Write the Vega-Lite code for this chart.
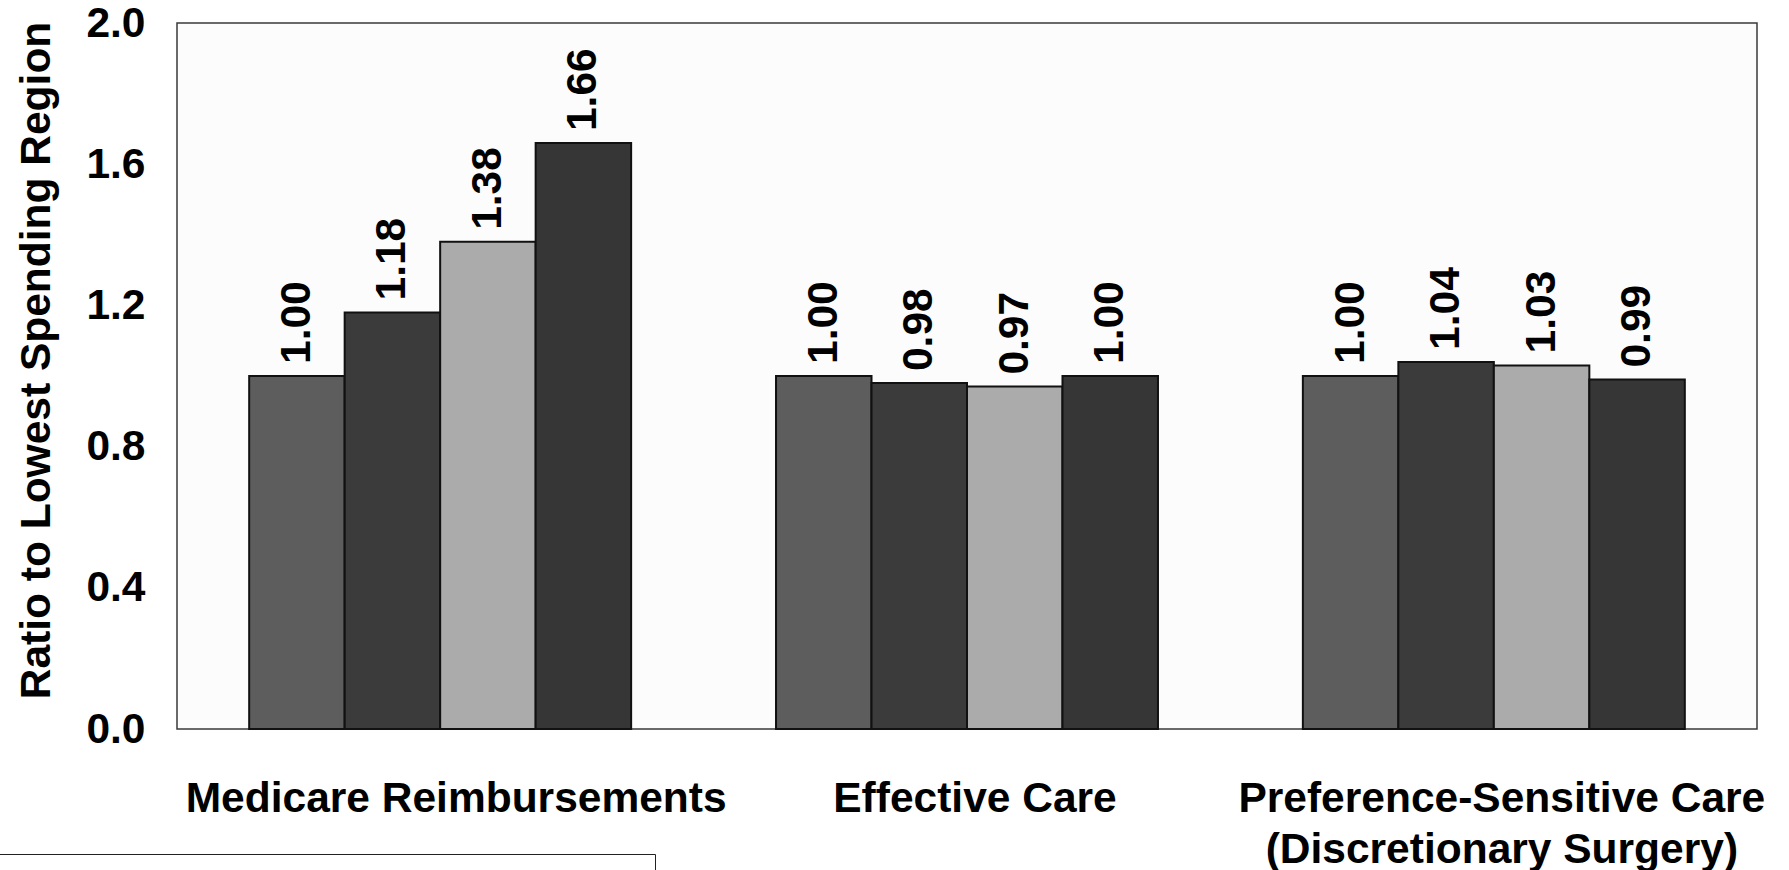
{
  "$schema": "https://vega.github.io/schema/vega-lite/v6.json",
  "width": 1580,
  "height": 706,
  "autosize": {"type": "none"},
  "padding": {"left": 177, "top": 23, "right": 32, "bottom": 141},
  "background": "white",
  "config": {
    "font": "Liberation Sans",
    "view": {"fill": "#fcfcfc", "stroke": "#3a3a3a", "strokeWidth": 1.5}
  },
  "data": {
    "values": [
      {"measure": "Medicare Reimbursements", "region": "Lowest Spending Quartile", "ratio": 1.00},
      {"measure": "Medicare Reimbursements", "region": "Quartile 2", "ratio": 1.18},
      {"measure": "Medicare Reimbursements", "region": "Quartile 3", "ratio": 1.38},
      {"measure": "Medicare Reimbursements", "region": "Highest Spending Quartile", "ratio": 1.66},
      {"measure": "Effective Care", "region": "Lowest Spending Quartile", "ratio": 1.00},
      {"measure": "Effective Care", "region": "Quartile 2", "ratio": 0.98},
      {"measure": "Effective Care", "region": "Quartile 3", "ratio": 0.97},
      {"measure": "Effective Care", "region": "Highest Spending Quartile", "ratio": 1.00},
      {"measure": "Preference-Sensitive Care (Discretionary Surgery)", "region": "Lowest Spending Quartile", "ratio": 1.00},
      {"measure": "Preference-Sensitive Care (Discretionary Surgery)", "region": "Quartile 2", "ratio": 1.04},
      {"measure": "Preference-Sensitive Care (Discretionary Surgery)", "region": "Quartile 3", "ratio": 1.03},
      {"measure": "Preference-Sensitive Care (Discretionary Surgery)", "region": "Highest Spending Quartile", "ratio": 0.99}
    ]
  },
  "encoding": {
    "x": {
      "field": "measure",
      "type": "nominal",
      "sort": ["Medicare Reimbursements", "Effective Care", "Preference-Sensitive Care (Discretionary Surgery)"],
      "scale": {"paddingInner": 0.275, "paddingOuter": 0.137},
      "axis": {
        "title": null,
        "labelAngle": 0,
        "ticks": false,
        "domain": false,
        "labelFontSize": 42.5,
        "labelFontWeight": "bold",
        "labelColor": "black",
        "labelPadding": 48,
        "labelLimit": 0,
        "labelLineHeight": 51,
        "labelBaseline": "top",
        "labelOffset": {"condition": {"test": "datum.value == 'Medicare Reimbursements'", "value": 16}, "value": 8},
        "labelExpr": "datum.label == 'Preference-Sensitive Care (Discretionary Surgery)' ? ['Preference-Sensitive Care', '(Discretionary Surgery)'] : datum.label"
      }
    },
    "xOffset": {
      "field": "region",
      "type": "nominal",
      "sort": ["Lowest Spending Quartile", "Quartile 2", "Quartile 3", "Highest Spending Quartile"],
      "scale": {"paddingInner": 0, "paddingOuter": 0}
    },
    "y": {
      "field": "ratio",
      "type": "quantitative",
      "scale": {"domain": [0, 2], "nice": false},
      "axis": {
        "title": "Ratio to Lowest Spending Region",
        "values": [0, 0.4, 0.8, 1.2, 1.6, 2.0],
        "format": ".1f",
        "grid": false,
        "ticks": false,
        "domain": false,
        "labelFontSize": 42.5,
        "labelFontWeight": "bold",
        "labelColor": "black",
        "labelPadding": 32,
        "titleFontSize": 42.5,
        "titleFontWeight": "bold",
        "titleColor": "black",
        "titleAngle": 270,
        "titleAlign": "center",
        "titleBaseline": "alphabetic",
        "titleX": -128,
        "titleY": 337
      }
    }
  },
  "layer": [
    {
      "mark": {"type": "bar", "stroke": "#111111", "strokeWidth": 2},
      "encoding": {
        "color": {
          "field": "region",
          "type": "nominal",
          "sort": ["Lowest Spending Quartile", "Quartile 2", "Quartile 3", "Highest Spending Quartile"],
          "scale": {"range": ["#5d5d5d", "#3b3b3b", "#ababab", "#363636"]},
          "legend": {
            "orient": "none",
            "legendX": -180,
            "legendY": 831,
            "title": null,
            "fillColor": "white",
            "strokeColor": "#222222",
            "padding": 229,
            "labelFontSize": 41,
            "labelFontWeight": "bold",
            "symbolType": "square",
            "symbolSize": 600,
            "symbolStrokeColor": "#111111"
          }
        }
      }
    },
    {
      "mark": {
        "type": "text",
        "angle": 270,
        "align": "left",
        "baseline": "middle",
        "dx": 12,
        "fontSize": 42.5,
        "fontWeight": "bold",
        "color": "black"
      },
      "encoding": {
        "text": {"field": "ratio", "type": "quantitative", "format": ".2f"}
      }
    }
  ]
}
